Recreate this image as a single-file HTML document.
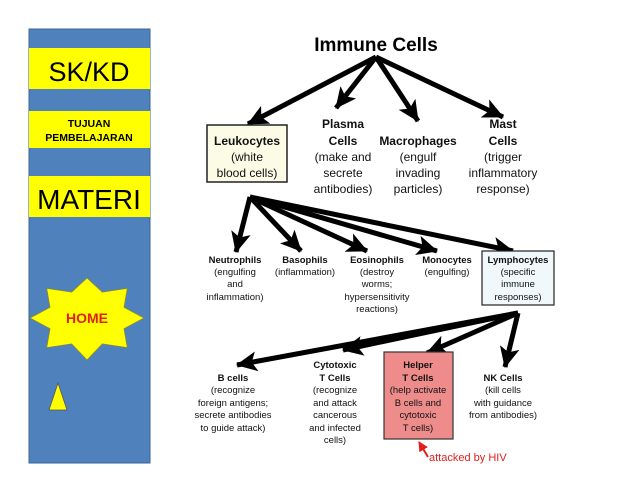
<!DOCTYPE html>
<html><head><meta charset="utf-8"><style>
html,body{margin:0;padding:0;background:#fff;}
svg{display:block;font-family:"Liberation Sans",Arial,sans-serif;}
</style></head><body>
<svg width="638" height="493" viewBox="0 0 638 493" xmlns="http://www.w3.org/2000/svg">
<defs>
<marker id="ah" markerUnits="userSpaceOnUse" markerWidth="22" markerHeight="20" refX="20" refY="10" orient="auto">
<path d="M0,0 L21,10 L0,20 L5,10 Z" fill="#000"/></marker>
<marker id="rh" markerUnits="userSpaceOnUse" markerWidth="10" markerHeight="10" refX="9" refY="5" orient="auto">
<path d="M0,0 L10,5 L0,10 Z" fill="#e02020"/></marker>
</defs>
<rect x="29" y="29" width="121" height="434" fill="#4f81bd" stroke="#3a6595" stroke-width="1"/>
<rect x="29" y="48" width="121" height="41" fill="#ffff00"/>
<text x="89" y="81" font-size="27" text-anchor="middle">SK/KD</text>
<rect x="29" y="111" width="121" height="37" fill="#ffff00"/>
<text x="89" y="127" font-size="10.5" font-weight="bold" text-anchor="middle">TUJUAN</text>
<text x="89" y="141" font-size="10.5" font-weight="bold" text-anchor="middle">PEMBELAJARAN</text>
<rect x="29" y="176" width="121" height="41" fill="#ffff00"/>
<text x="89" y="209" font-size="28" text-anchor="middle">MATERI</text>
<polygon points="87,278 102.3,292.1 127.3,288.3 124,307.3 144,318 124,328.7 127.3,347.7 102.3,343.9 87,360 71.7,343.9 46.7,347.7 50,328.7 30,318 50,307.3 46.7,288.3 71.7,292.1" fill="#ffff00" stroke="#8a8a30" stroke-width="0.8"/>
<text x="87" y="323" font-size="14" font-weight="bold" fill="#e02010" text-anchor="middle">HOME</text>
<polygon points="58,383 67,410 49,410" fill="#ffff00" stroke="#555" stroke-width="0.8"/>

<text x="376" y="51" font-size="19" font-weight="bold" text-anchor="middle">Immune Cells</text>
<g stroke="#000" stroke-width="5" fill="none" marker-end="url(#ah)">
<line x1="376" y1="57" x2="248" y2="124"/>
<line x1="376" y1="57" x2="336" y2="108"/>
<line x1="376" y1="57" x2="418" y2="121"/>
<line x1="376" y1="57" x2="503" y2="117"/>
<line x1="250" y1="197" x2="236" y2="252"/>
<line x1="250" y1="197" x2="301" y2="251"/>
<line x1="250" y1="197" x2="367" y2="251"/>
<line x1="250" y1="197" x2="437" y2="251"/>
<line x1="250" y1="197" x2="513" y2="251"/>
<line x1="518" y1="313" x2="237" y2="365"/>
<line x1="518" y1="313" x2="343" y2="350"/>
<line x1="518" y1="313" x2="427" y2="353"/>
<line x1="518" y1="313" x2="505" y2="367"/>
</g>
<rect x="207" y="125" width="80" height="57" fill="#fbfbe6" stroke="#222" stroke-width="1.5"/>
<g font-size="12" text-anchor="middle" fill="#111">
<text x="247" y="145" font-weight="bold">Leukocytes</text>
<text x="247" y="161">(white</text>
<text x="247" y="177">blood cells)</text>
<text x="343" y="128" font-weight="bold">Plasma</text>
<text x="343" y="145" font-weight="bold">Cells</text>
<text x="343" y="161">(make and</text>
<text x="343" y="177">secrete</text>
<text x="343" y="193">antibodies)</text>
<text x="418" y="145" font-weight="bold">Macrophages</text>
<text x="418" y="161">(engulf</text>
<text x="418" y="177">invading</text>
<text x="418" y="193">particles)</text>
<text x="503" y="128" font-weight="bold">Mast</text>
<text x="503" y="145" font-weight="bold">Cells</text>
<text x="503" y="161">(trigger</text>
<text x="503" y="177">inflammatory</text>
<text x="503" y="193">response)</text>
</g>
<rect x="482" y="251" width="72" height="54" fill="#f0f8fb" stroke="#222" stroke-width="1.2"/>
<rect x="384" y="352" width="69" height="87" fill="#ee8c8c" stroke="#333" stroke-width="1.2"/>
<g font-size="9.5" text-anchor="middle" fill="#111">
<text x="235" y="263" font-weight="bold">Neutrophils</text>
<text x="235" y="275">(engulfing</text>
<text x="235" y="287">and</text>
<text x="235" y="300">inflammation)</text>
<text x="305" y="263" font-weight="bold">Basophils</text>
<text x="305" y="275">(inflammation)</text>
<text x="377" y="263" font-weight="bold">Eosinophils</text>
<text x="377" y="275">(destroy</text>
<text x="377" y="287">worms;</text>
<text x="377" y="300">hypersensitivity</text>
<text x="377" y="312">reactions)</text>
<text x="447" y="263" font-weight="bold">Monocytes</text>
<text x="447" y="275">(engulfing)</text>
<text x="518" y="263" font-weight="bold">Lymphocytes</text>
<text x="518" y="275">(specific</text>
<text x="518" y="287">immune</text>
<text x="518" y="300">responses)</text>
<text x="233" y="381" font-weight="bold">B cells</text>
<text x="233" y="393">(recognize</text>
<text x="233" y="406">foreign antigens;</text>
<text x="233" y="418">secrete antibodies</text>
<text x="233" y="431">to guide attack)</text>
<text x="335" y="368" font-weight="bold">Cytotoxic</text>
<text x="335" y="381" font-weight="bold">T Cells</text>
<text x="335" y="393">(recognize</text>
<text x="335" y="406">and attack</text>
<text x="335" y="418">cancerous</text>
<text x="335" y="431">and infected</text>
<text x="335" y="443">cells)</text>
<text x="418" y="368" font-weight="bold">Helper</text>
<text x="418" y="381" font-weight="bold">T Cells</text>
<text x="418" y="393">(help activate</text>
<text x="418" y="406">B cells and</text>
<text x="418" y="418">cytotoxic</text>
<text x="418" y="431">T cells)</text>
<text x="503" y="381" font-weight="bold">NK Cells</text>
<text x="503" y="393">(kill cells</text>
<text x="503" y="406">with guidance</text>
<text x="503" y="418">from antibodies)</text>
</g>
<line x1="428" y1="457" x2="419" y2="442" stroke="#e02020" stroke-width="2" marker-end="url(#rh)"/>
<text x="429" y="461" font-size="11" fill="#e02020">attacked by HIV</text>
</svg>
</body></html>
